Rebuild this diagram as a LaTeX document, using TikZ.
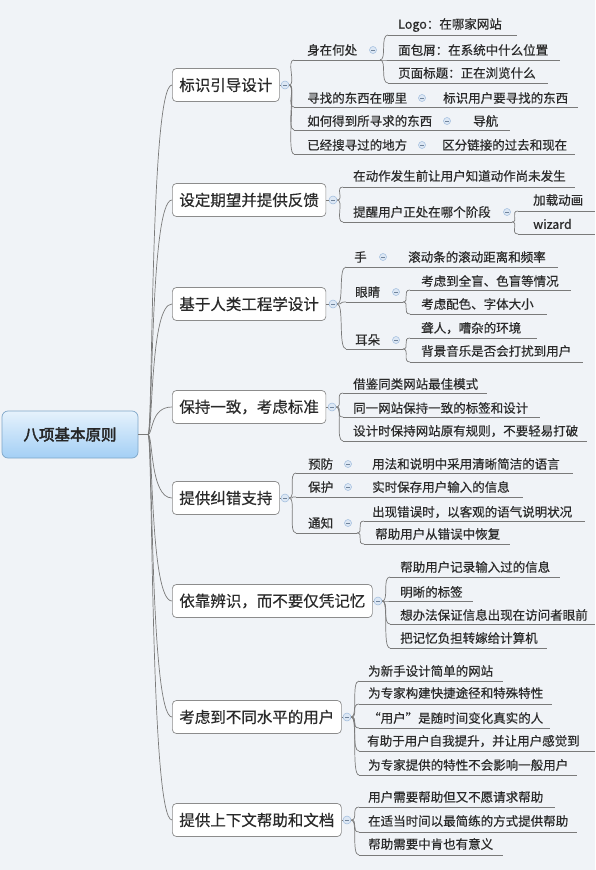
\documentclass[tikz,border=0pt]{standalone}
\usepackage{fontspec}
\newfontfamily\cjk[FakeBold=0.5]{Noto Sans CJK SC}
\newfontfamily\cjkb[FakeBold=2.5]{Noto Sans CJK SC}
\definecolor{bg}{HTML}{F0F3F7}
\definecolor{txt}{HTML}{2A2A2A}
\definecolor{lnc}{HTML}{7A7A7A}
\definecolor{boxb}{HTML}{8C8C8C}
\definecolor{circf}{HTML}{DCE7F4}
\definecolor{circd}{HTML}{9EBBDD}
\definecolor{rootb}{HTML}{7EA6C8}
\definecolor{roott}{HTML}{E6F2FC}
\definecolor{rootbot}{HTML}{A3CFF5}
\newcommand\sbt[7]{%
  \node[subtxt] (#1) at (#2,#3) {#7};
  \coordinate (#1-l) at (#4,#6);
  \coordinate (#1-r) at (#5,#6);
  \draw[ln] (#1-l) -- (#1-r);}
\newcommand\conn[2]{\draw[ln] (#1) .. controls +(7,0) and +(-8,0) .. (#2);}
\newcommand\trunk[1]{\draw[ln] (rj) .. controls +(5,0) and +(-22,0) .. (#1.west);}
\begin{document}
\begin{tikzpicture}[x=1pt,y=-1pt,
  mainbox/.style={draw=boxb, fill=white, rounded corners=4pt, minimum height=33pt,
    inner xsep=7pt, inner ysep=0pt, anchor=west,
    font=\cjk\fontsize{15.5}{18}\selectfont, text=txt, line width=0.7pt},
  subtxt/.style={anchor=west, inner sep=0pt, font=\cjk\fontsize{12.5}{15}\selectfont, text=txt},
  ln/.style={draw=lnc, line width=0.7pt},
  circ/.style={circle, draw=circd, fill=circf, minimum size=8pt, inner sep=0pt, line width=0.5pt,
    path picture={\draw[circd!70!black, line width=0.6pt]
      ([xshift=-2pt]path picture bounding box.center) -- ([xshift=2pt]path picture bounding box.center);}},
  scirc/.style={circ, minimum size=7pt},
  rootbox/.style={draw=rootb, rounded corners=6pt, top color=roott, bottom color=rootbot,
    minimum width=136pt, minimum height=47pt, line width=0.7pt,
    font=\cjkb\fontsize{15.5}{18}\selectfont, text=black!85}
]
\fill[bg] (0,0) rectangle (595,870);
\useasboundingbox (0,0) rectangle (595,870);

% root
\node[rootbox] (root) at (70,434.5) {八项基本原则};
\coordinate (rj) at (148,434.5);
\draw[ln] (root.east) -- (rj);

% main boxes
\node[mainbox] (m1) at (172,85) {标识引导设计};
\node[mainbox] (m2) at (172,200) {设定期望并提供反馈};
\node[mainbox] (m3) at (172,304) {基于人类工程学设计};
\node[mainbox] (m4) at (172,407) {保持一致，考虑标准};
\node[mainbox] (m5) at (172,498) {提供纠错支持};
\node[mainbox] (m6) at (172,601) {依靠辨识，而不要仅凭记忆};
\node[mainbox] (m7) at (172,717) {考虑到不同水平的用户};
\node[mainbox] (m8) at (172,820) {提供上下文帮助和文档};
\foreach \m in {m1,m2,m3,m4,m5,m6,m7,m8} {\trunk{\m}}

% main circles
\node[circ] (k1) at (285,85) {};
\node[circ] (k2) at (333,200) {};
\node[circ] (k3) at (333,304) {};
\node[circ] (k4) at (332,407) {};
\node[circ] (k5) at (285,498) {};
\node[circ] (k6) at (378,601) {};
\node[circ] (k7) at (347,717) {};
\node[circ] (k8) at (347,820) {};
\draw[ln] (m1.east) -- (k1.west);
\draw[ln] (m2.east) -- (k2.west);
\draw[ln] (m3.east) -- (k3.west);
\draw[ln] (m4.east) -- (k4.west);
\draw[ln] (m5.east) -- (k5.west);
\draw[ln] (m6.east) -- (k6.west);
\draw[ln] (m7.east) -- (k7.west);
\draw[ln] (m8.east) -- (k8.west);

% group 1
\sbt{a1}{307}{50}{294}{380}{60}{身在何处}
\node[scirc] (a1c) at (373,50) {};
\sbt{a11}{398}{25}{388}{517}{35}{Logo：在哪家网站}
\sbt{a12}{398}{50}{388}{560}{60}{面包屑：在系统中什么位置}
\sbt{a13}{398}{73}{388}{548}{83}{页面标题：正在浏览什么}
\sbt{a2}{307}{98}{294}{437}{107}{寻找的东西在哪里}
\node[scirc] (a2c) at (422,98) {};
\sbt{a21}{443}{98}{437}{578}{107}{标识用户要寻找的东西}
\sbt{a3}{307}{121}{294}{460}{130}{如何得到所寻求的东西}
\node[scirc] (a3c) at (447,121) {};
\sbt{a31}{473}{121}{460}{510}{130}{导航}
\sbt{a4}{307}{145}{294}{437}{154}{已经搜寻过的地方}
\node[scirc] (a4c) at (422,145) {};
\sbt{a41}{442}{145}{437}{575}{154}{区分链接的过去和现在}
\foreach \s in {a1,a2,a3,a4} {\conn{k1.east}{\s-l}}
\foreach \s in {a11,a12,a13} {\conn{a1-r}{\s-l}}
\draw[ln] (a2-r) -- (a21-l);
\draw[ln] (a3-r) -- (a31-l);
\draw[ln] (a4-r) -- (a41-l);

% group 2
\sbt{b1}{353}{176}{343}{575}{187}{在动作发生前让用户知道动作尚未发生}
\sbt{b2}{353}{212}{343}{512}{222}{提醒用户正处在哪个阶段}
\node[scirc] (b2c) at (507,212) {};
\sbt{b21}{533}{200}{518}{595}{211}{加载动画}
\sbt{b22}{533}{224}{518}{595}{234}{wizard}
\foreach \s in {b1,b2} {\conn{k2.east}{\s-l}}
\foreach \s in {b21,b22} {\conn{b2-r}{\s-l}}

% group 3
\sbt{g1}{354}{257}{346}{400}{267}{手}
\node[scirc] (g1c) at (383,257) {};
\sbt{g11}{408}{257}{400}{558}{267}{滚动条的滚动距离和频率}
\sbt{g2}{355}{292}{346}{403}{302}{眼睛}
\node[scirc] (g2c) at (396,292) {};
\sbt{g21}{421}{281}{410}{571}{290}{考虑到全盲、色盲等情况}
\sbt{g22}{421}{304}{410}{547}{314}{考虑配色、字体大小}
\sbt{g3}{355}{340}{346}{403}{349}{耳朵}
\node[scirc] (g3c) at (396,340) {};
\sbt{g31}{421}{328}{410}{537}{338}{聋人，嘈杂的环境}
\sbt{g32}{421}{351}{410}{583}{362}{背景音乐是否会打扰到用户}
\foreach \s in {g1,g2,g3} {\conn{k3.east}{\s-l}}
\draw[ln] (g1-r) -- (g11-l);
\foreach \s in {g21,g22} {\conn{g2-r}{\s-l}}
\foreach \s in {g31,g32} {\conn{g3-r}{\s-l}}

% group 4
\sbt{h1}{353}{384}{343}{487}{393}{借鉴同类网站最佳模式}
\sbt{h2}{353}{408}{343}{540}{417}{同一网站保持一致的标签和设计}
\sbt{h3}{353}{431}{343}{587}{441}{设计时保持网站原有规则，不要轻易打破}
\foreach \s in {h1,h2,h3} {\conn{k4.east}{\s-l}}

% group 5
\sbt{e1}{308}{464}{296}{365}{473}{预防}
\node[scirc] (e1c) at (348,464) {};
\sbt{e11}{372}{464}{365}{573}{473}{用法和说明中采用清晰简洁的语言}
\sbt{e2}{308}{487}{296}{365}{497}{保护}
\node[scirc] (e2c) at (348,487) {};
\sbt{e21}{372}{487}{365}{523}{497}{实时保存用户输入的信息}
\sbt{e3}{308}{523}{296}{357}{533}{通知}
\node[scirc] (e3c) at (348,523) {};
\sbt{e31}{372}{512}{364}{585}{521}{出现错误时，以客观的语气说明状况}
\sbt{e32}{375}{534}{364}{510}{544}{帮助用户从错误中恢复}
\foreach \s in {e1,e2,e3} {\conn{k5.east}{\s-l}}
\draw[ln] (e1-r) -- (e11-l);
\draw[ln] (e2-r) -- (e21-l);
\foreach \s in {e31,e32} {\conn{e3-r}{\s-l}}

% group 6
\sbt{f1}{400}{567}{390}{560}{577}{帮助用户记录输入过的信息}
\sbt{f2}{400}{592}{390}{473}{601}{明晰的标签}
\sbt{f3}{400}{615}{390}{595}{624}{想办法保证信息出现在访问者眼前}
\sbt{f4}{400}{638}{390}{547}{648}{把记忆负担转嫁给计算机}
\foreach \s in {f1,f2,f3,f4} {\conn{k6.east}{\s-l}}

% group 7
\sbt{p1}{368}{671}{359}{503}{681}{为新手设计简单的网站}
\sbt{p2}{368}{693}{359}{552}{704}{为专家构建快捷途径和特殊特性}
\sbt{p3}{368}{718}{359}{550}{728}{“用户”是随时间变化真实的人}
\sbt{p4}{367}{741}{359}{595}{751}{有助于用户自我提升，并让用户感觉到}
\sbt{p5}{368}{765}{359}{577}{775}{为专家提供的特性不会影响一般用户}
\foreach \s in {p1,p2,p3,p4,p5} {\conn{k7.east}{\s-l}}

% group 8
\sbt{q1}{368}{797}{359}{555}{807}{用户需要帮助但又不愿请求帮助}
\sbt{q2}{368}{821}{359}{577}{832}{在适当时间以最简练的方式提供帮助}
\sbt{q3}{368}{844}{359}{503}{855}{帮助需要中肯也有意义}
\foreach \s in {q1,q2,q3} {\conn{k8.east}{\s-l}}
\end{tikzpicture}
\end{document}
